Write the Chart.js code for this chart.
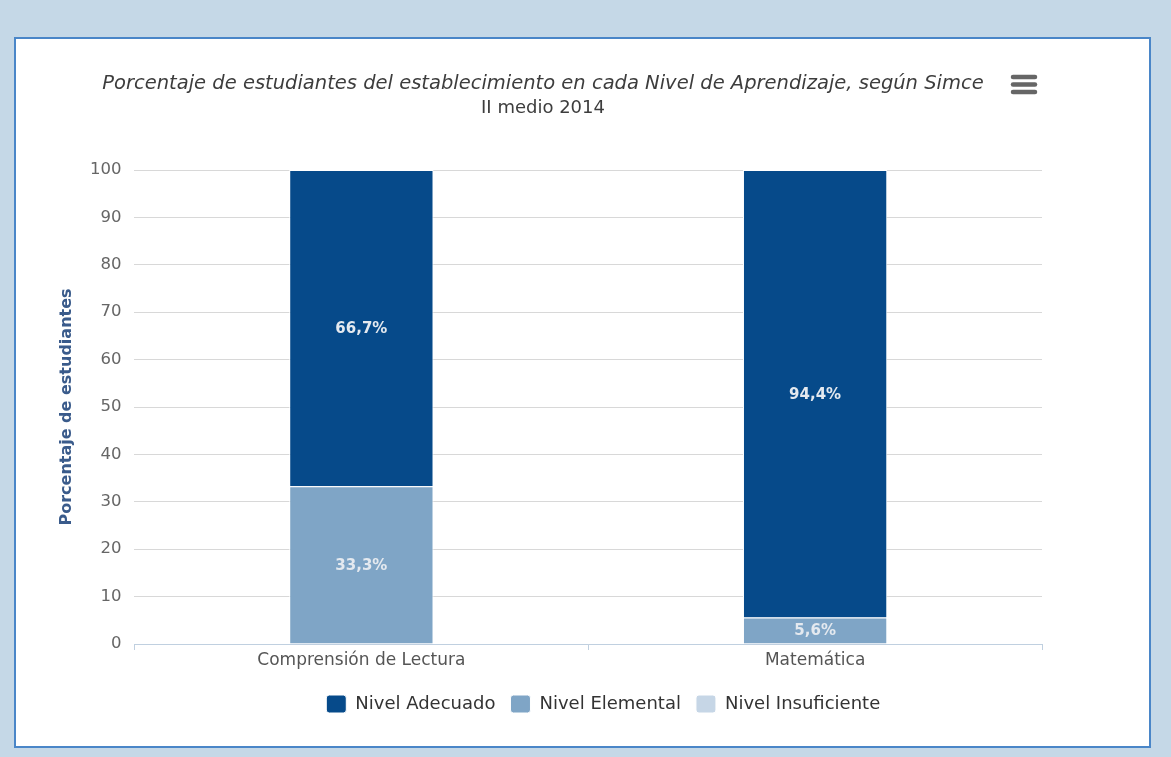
<!DOCTYPE html>
<html><head><meta charset="utf-8">
<script src="https://cdn.jsdelivr.net/npm/chart.js@4"></script>
<style>
html,body{margin:0;padding:0;width:1171px;height:757px;overflow:hidden;background:#c5d8e7;}
#panel{position:absolute;left:14px;top:37px;width:1133px;height:707px;border:2px solid #4a86c8;background:#fff;}
#c{position:absolute;left:0;top:0;width:1171px;height:757px;}
</style></head><body>
<div id="panel"></div>
<canvas id="c" width="1171" height="757"></canvas>
<script>
const categories = ['Comprensión de Lectura', 'Matemática'];
const seriesNames = ['Nivel Adecuado', 'Nivel Elemental', 'Nivel Insuficiente'];
const adecuado = [66.7, 94.4];
const elemental = [33.3, 5.6];
const insuficiente = [0, 0];
const yTicks = [0, 10, 20, 30, 40, 50, 60, 70, 80, 90, 100];
const colors = ['#064a8a', '#7fa5c6', '#c6d6e6'];
const FONT = "'DejaVu Sans', sans-serif";

const menuIcon = {
  id: 'menuIcon',
  afterDraw(chart) {
    const ctx = chart.ctx;
    ctx.save();
    ctx.strokeStyle = '#666';
    ctx.lineWidth = 4.5;
    ctx.lineCap = 'round';
    [77, 84.5, 92].forEach(y => {
      ctx.beginPath(); ctx.moveTo(1013, y); ctx.lineTo(1035, y); ctx.stroke();
    });
    ctx.restore();
  }
};

const legendShift = {
  id: 'legendShift',
  afterLayout(chart) {
    const lg = chart.legend;
    const target = chart.chartArea.left + (chart.chartArea.right - chart.chartArea.left) / 2 + 15;
    const dx = target - (lg.left + lg.right) / 2;
    lg.left += dx; lg.right += dx;
  }
};

const dataLabels = {
  id: 'dataLabels',
  afterDatasetsDraw(chart) {
    const ctx = chart.ctx;
    ctx.save();
    ctx.font = "bold 15px " + FONT;
    ctx.fillStyle = '#e4e9ef';
    ctx.textAlign = 'center';
    ctx.textBaseline = 'middle';
    chart.data.datasets.forEach((ds, i) => {
      const meta = chart.getDatasetMeta(i);
      meta.data.forEach((bar, j) => {
        const v = ds.data[j];
        if (!v) return;
        ctx.fillText(v.toFixed(1).replace('.', ',') + '%', bar.x, (bar.y + bar.base) / 2 + 1);
      });
    });
    ctx.restore();
  }
};

new Chart(document.getElementById('c'), {
  type: 'bar',
  data: {
    labels: categories,
    datasets: [
      { label: seriesNames[2], data: insuficiente, backgroundColor: colors[2] },
      { label: seriesNames[1], data: elemental, backgroundColor: colors[1] },
      { label: seriesNames[0], data: adecuado, backgroundColor: colors[0] }
    ].map(d => Object.assign(d, { borderColor: '#ffffff', borderWidth: 1, categoryPercentage: 1, barPercentage: 0.318 }))
  },
  options: {
    responsive: false,
    animation: false,
    layout: { padding: { left: 44, right: 129, top: 0, bottom: 34 } },
    plugins: {
      tooltip: { enabled: false },
      title: {
        display: true,
        text: 'Porcentaje de estudiantes del establecimiento en cada Nivel de Aprendizaje, según Simce',
        color: '#3d3d3d',
        font: { family: FONT, size: 19.5, style: 'italic', weight: 'normal' },
        padding: { top: 72, bottom: 0 }
      },
      subtitle: {
        display: true,
        text: 'II medio 2014',
        color: '#3d3d3d',
        font: { family: FONT, size: 18 },
        padding: { top: 2, bottom: 51 }
      },
      legend: {
        position: 'bottom',
        labels: {
          sort: (a, b) => b.datasetIndex - a.datasetIndex,
          color: '#333',
          font: { family: FONT, size: 18 },
          boxWidth: 20, boxHeight: 18,
          useBorderRadius: true, borderRadius: 3,
          padding: 15
        }
      }
    },
    scales: {
      x: {
        stacked: true,
        offset: true,
        grid: { display: true, drawOnChartArea: false, drawTicks: true, tickLength: 6, color: '#c0d0e0', offset: true },
        border: { display: true, color: '#c0d0e0' },
        ticks: { color: '#555', font: { family: FONT, size: 17 }, padding: 0 },
        afterFit: s => { s.height += 9.6; }
      },
      y: {
        stacked: true,
        min: 0, max: 100,
        afterBuildTicks: s => { s.ticks = yTicks.map(v => ({ value: v })); },
        grid: { color: '#d8d8d8', drawTicks: false },
        border: { display: false },
        ticks: { color: '#666', font: { family: FONT, size: 16.5 }, padding: 13 },
        title: {
          display: true, text: 'Porcentaje de estudiantes',
          color: '#3a5b8b', font: { family: FONT, size: 16, weight: 'bold' },
          padding: { top: 13.4, bottom: 0.4 }
        }
      }
    }
  },
  plugins: [menuIcon, dataLabels, legendShift]
});
</script>
</body></html>
